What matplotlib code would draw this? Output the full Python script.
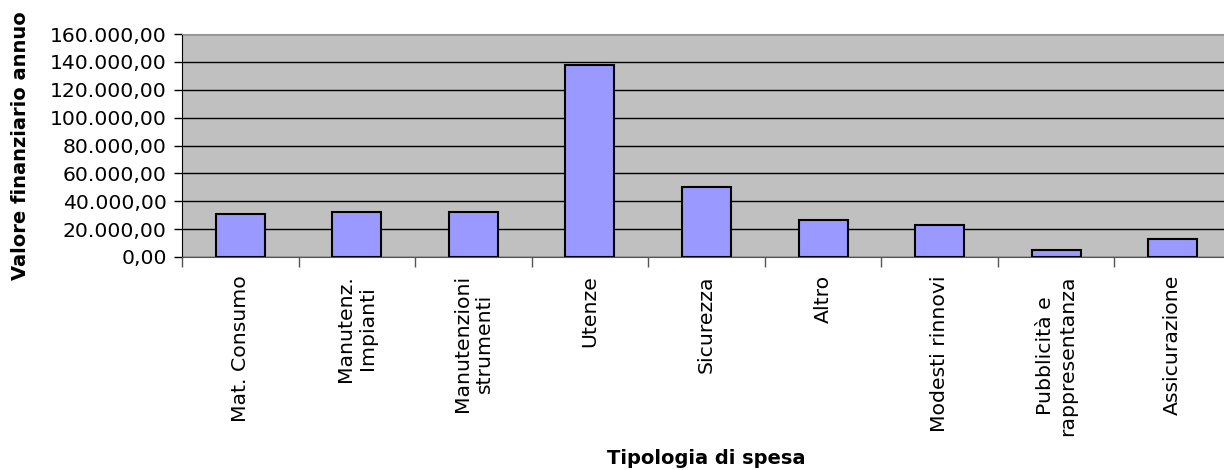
import matplotlib.pyplot as plt
from matplotlib.ticker import FuncFormatter, MultipleLocator

# categories and values
categorie = [
    "Mat. Consumo",
    "Manutenz.\nImpianti",
    "Manutenzioni\nstrumenti",
    "Utenze",
    "Sicurezza",
    "Altro",
    "Modesti rinnovi",
    "Pubblicità e\nrappresentanza",
    "Assicurazione",
]
valori = [31000, 32200, 32200, 137500, 50000, 26800, 23200, 5000, 12900]


def formato_it(v, pos):
    # 160000 -> "160.000,00"
    s = f"{v:,.2f}"
    return s.replace(",", "X").replace(".", ",").replace("X", ".")


plt.rcParams["font.family"] = ["DejaVu Sans"]

fig = plt.figure(figsize=(12.24, 4.70), dpi=100)
ax = fig.add_axes([182 / 1224, 1 - 257 / 470, (1231 - 182) / 1224, (257 - 34) / 470])

x = range(len(categorie))
ax.bar(x, valori, width=0.42, color="#9999FF", edgecolor="black", linewidth=1.5, zorder=3)

ax.set_facecolor("#C0C0C0")
ax.set_xlim(-0.5, len(categorie) - 0.5)
ax.set_ylim(0, 160000)
ax.yaxis.set_major_locator(MultipleLocator(20000))
ax.yaxis.set_major_formatter(FuncFormatter(formato_it))
ax.grid(axis="y", color="black", linewidth=1, zorder=1)

# category ticks sit on the boundaries, labels in the middle
ax.set_xticks([i - 0.5 for i in range(len(categorie) + 1)])
ax.set_xticklabels([])
ax.set_xticks(list(x), minor=True)
ax.set_xticklabels(categorie, minor=True, rotation=90, va="top", ha="center",
                   multialignment="center", fontsize=14.7)
ax.tick_params(axis="x", which="minor", length=0, pad=13)
ax.tick_params(axis="x", which="major", length=7, width=1, color="#555555")
ax.tick_params(axis="y", length=6, width=1, labelsize=14.7, pad=5)

ax.spines["top"].set_color("#999999")
ax.spines["right"].set_color("#999999")
ax.spines["left"].set_color("black")
ax.spines["bottom"].set_color("#555555")

fig.text(21 / 1224, 1 - 146 / 470, "Valore finanziario annuo", fontsize=14,
         fontweight="bold", rotation=90, ha="center", va="center")
fig.text(706 / 1224, 1 - 458 / 470, "Tipologia di spesa", fontsize=14,
         fontweight="bold", ha="center", va="center")

fig.savefig("out.png", dpi=100)
